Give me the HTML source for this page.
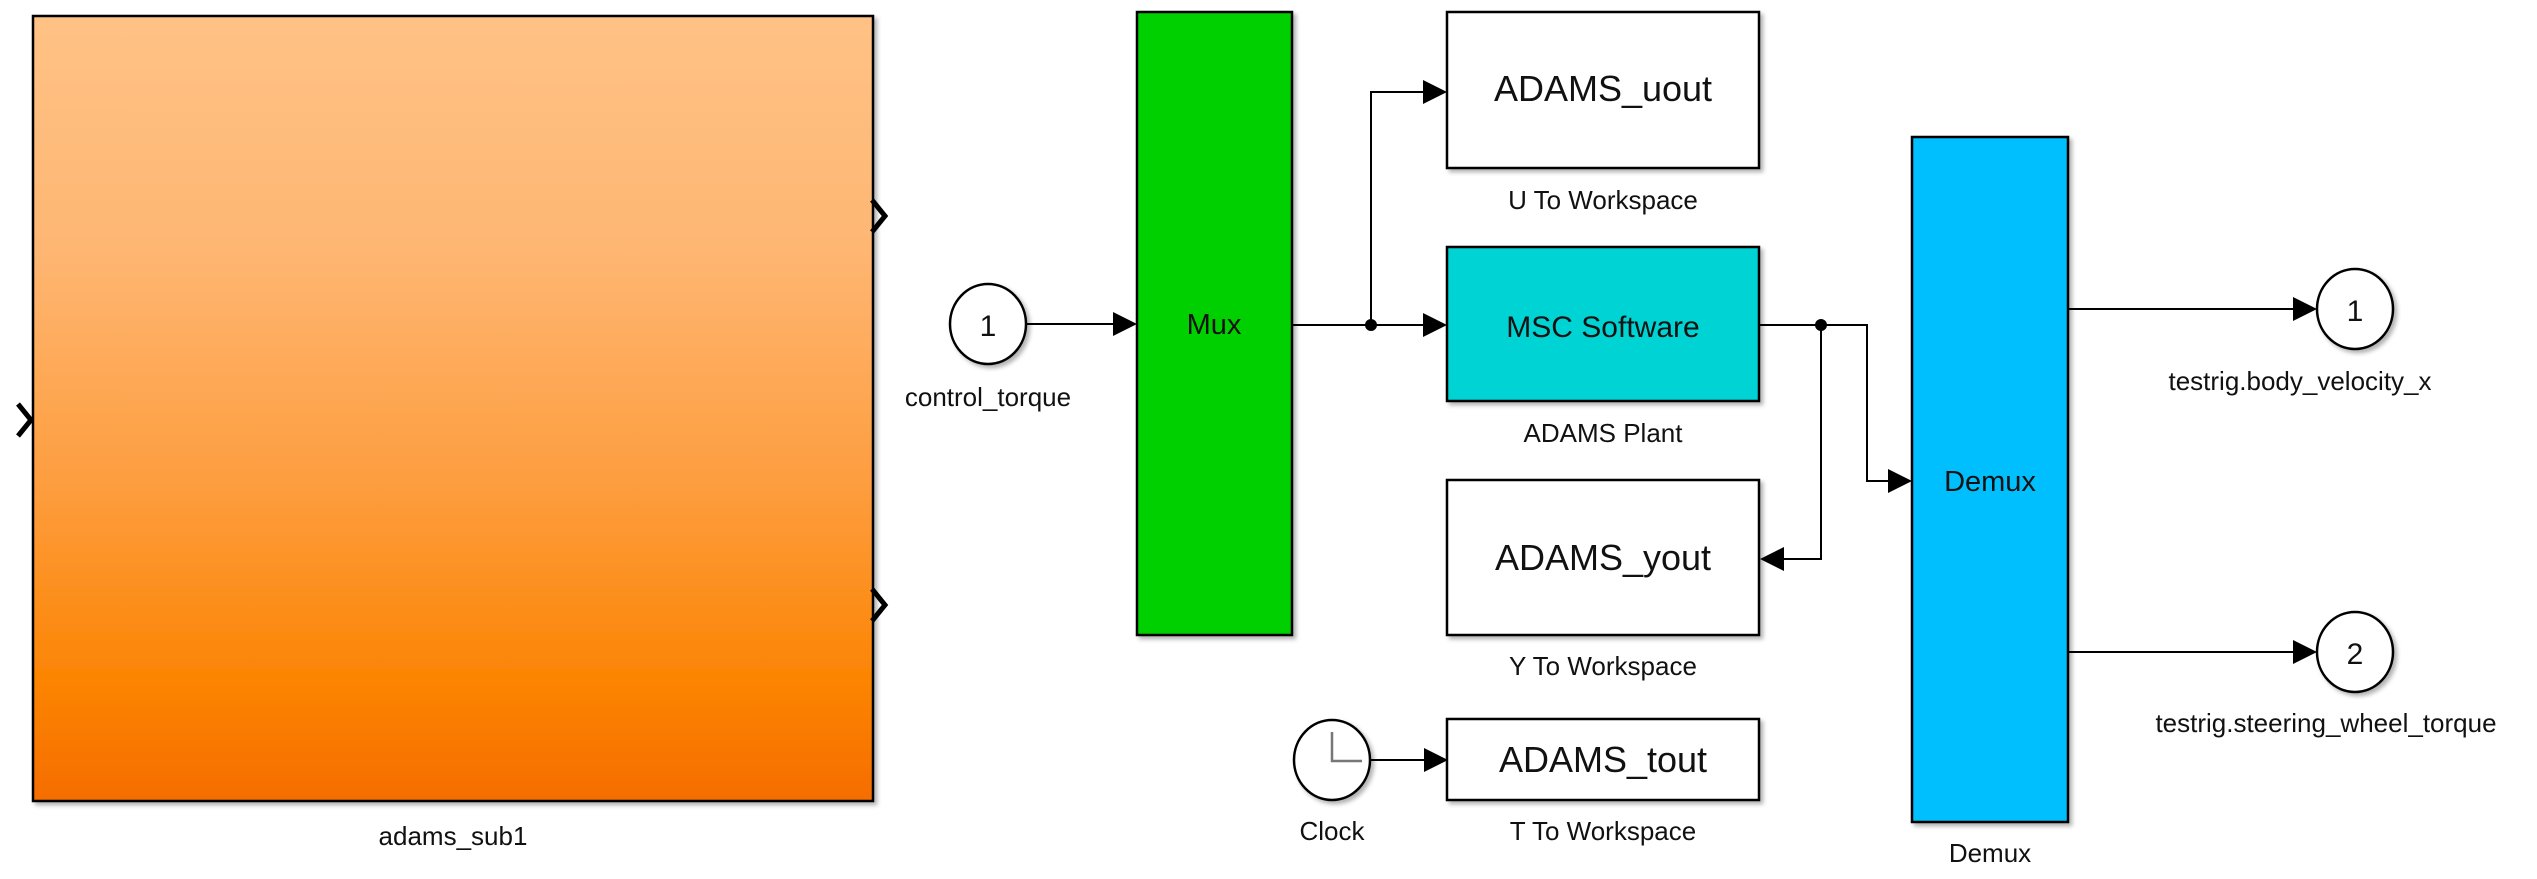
<!DOCTYPE html>
<html><head><meta charset="utf-8"><style>html,body{margin:0;padding:0;background:#fff;}svg{display:block}</style></head>
<body>
<svg width="2537" height="879" viewBox="0 0 2537 879" xmlns="http://www.w3.org/2000/svg" font-family="Liberation Sans, Arial, sans-serif">
<defs>
<linearGradient id="og" x1="0" y1="0" x2="0" y2="1">
<stop offset="0" stop-color="#ffc285"/>
<stop offset="0.3" stop-color="#feb672"/>
<stop offset="0.6" stop-color="#fd9d3e"/>
<stop offset="0.85" stop-color="#fc8402"/>
<stop offset="1" stop-color="#f56d00"/>
</linearGradient>
<filter id="sh" x="-5%" y="-5%" width="115%" height="115%"><feDropShadow dx="3" dy="3" stdDeviation="2" flood-color="#000" flood-opacity="0.3"/></filter>
</defs>
<g stroke="#000" stroke-width="2.5">
<rect x="33" y="16" width="840" height="785" fill="url(#og)" filter="url(#sh)"/>
<rect x="1137" y="12" width="155" height="623" fill="#00d000" filter="url(#sh)"/>
<rect x="1447" y="12" width="312" height="156" fill="#fff" filter="url(#sh)"/>
<rect x="1447" y="247" width="312" height="154" fill="#00d3d3" filter="url(#sh)"/>
<rect x="1447" y="480" width="312" height="155" fill="#fff" filter="url(#sh)"/>
<rect x="1447" y="719" width="312" height="81" fill="#fff" filter="url(#sh)"/>
<rect x="1912" y="137" width="156" height="685" fill="#00bfff" filter="url(#sh)"/>
<ellipse cx="988" cy="324" rx="38" ry="40" fill="#fff" filter="url(#sh)"/>
<ellipse cx="2355" cy="309" rx="38" ry="40" fill="#fff" filter="url(#sh)"/>
<ellipse cx="2355" cy="652" rx="38" ry="40" fill="#fff" filter="url(#sh)"/>
<ellipse cx="1332" cy="760" rx="38" ry="40" fill="#fff" filter="url(#sh)"/>
</g>
<path d="M1332 732 V761 H1362" stroke="#777" stroke-width="2.5" fill="none"/>
<g stroke="#000" stroke-width="5" fill="none">
<path d="M18 404 L31 420 L18 436"/>
<path d="M872 200 L885 216 L872 232"/>
<path d="M872 589 L885 605 L872 621"/>
</g>
<g stroke="#000" stroke-width="2" fill="none">
<path d="M1026 324 H1117"/>
<path d="M1292 325 H1427"/>
<path d="M1371 325 V92 H1427"/>
<path d="M1759 325 H1867 V481 H1892"/>
<path d="M1821 325 V559 H1780"/>
<path d="M2068 309 H2297"/>
<path d="M2068 652 H2297"/>
<path d="M1370 760 H1428"/>
</g>
<g fill="#000">
<path d="M1113 312 L1137 324 L1113 336Z"/>
<path d="M1423 313 L1447 325 L1423 337Z"/>
<path d="M1423 80 L1447 92 L1423 104Z"/>
<path d="M1888 469 L1912 481 L1888 493Z"/>
<path d="M1784 547 L1760 559 L1784 571Z"/>
<path d="M2293 297 L2317 309 L2293 321Z"/>
<path d="M2293 640 L2317 652 L2293 664Z"/>
<path d="M1424 748 L1448 760 L1424 772Z"/>
<circle cx="1371" cy="325" r="6"/>
<circle cx="1821" cy="325" r="6"/>
</g>
<g fill="#111" text-anchor="middle">
<text x="988" y="336" font-size="30">1</text>
<text x="2355" y="321" font-size="30">1</text>
<text x="2355" y="664" font-size="30">2</text>
<text x="1214" y="334" font-size="29">Mux</text>
<text x="1603" y="101" font-size="36">ADAMS_uout</text>
<text x="1603" y="337" font-size="30">MSC Software</text>
<text x="1603" y="570" font-size="36">ADAMS_yout</text>
<text x="1603" y="772" font-size="36">ADAMS_tout</text>
<text x="1990" y="491" font-size="29">Demux</text>
<text x="453" y="845" font-size="26">adams_sub1</text>
<text x="988" y="406" font-size="26">control_torque</text>
<text x="1603" y="209" font-size="26">U To Workspace</text>
<text x="1603" y="442" font-size="26">ADAMS Plant</text>
<text x="1603" y="675" font-size="26">Y To Workspace</text>
<text x="1603" y="840" font-size="26">T To Workspace</text>
<text x="1332" y="840" font-size="26">Clock</text>
<text x="1990" y="862" font-size="26">Demux</text>
<text x="2300" y="390" font-size="26">testrig.body_velocity_x</text>
<text x="2326" y="732" font-size="26">testrig.steering_wheel_torque</text>
</g>
</svg>
</body></html>
